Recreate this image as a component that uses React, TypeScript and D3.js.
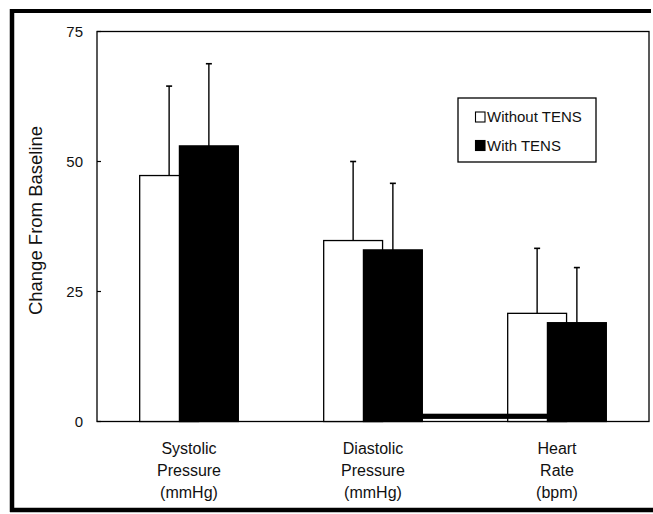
import React from "react";
import * as d3 from "d3";

const categories = ["Systolic", "Diastolic", "Heart"];
const categoryLines = [
  ["Systolic", "Pressure", "(mmHg)"],
  ["Diastolic", "Pressure", "(mmHg)"],
  ["Heart", "Rate", "(bpm)"],
];
const series = ["Without TENS", "With TENS"];
const withoutTens = [47.3, 34.8, 20.8];
const withoutTensErr = [17.2, 15.2, 12.5];
const withTens = [53.0, 33.0, 19.0];
const withTensErr = [15.8, 12.8, 10.6];
const yTicks = [0, 25, 50, 75];
// scanning artifact strip near the baseline (value band)
const stripRange = [0.5, 1.5];

const W = 653;
const H = 514;
const FONT = "'Liberation Sans', Arial, Helvetica, sans-serif";

export default function App() {
  const left = 97;
  const right = 649;
  const top = 31.5;
  const bottom = 421.5;

  const x = d3.scaleBand<string>().domain(categories).range([left, right]).padding(0);
  const y = d3.scaleLinear().domain([0, 75]).range([bottom, top]);
  const bw = x.bandwidth();
  const barW = bw * 0.32;
  const x1 = d3.scalePoint<string>().domain(series).range([-bw * 0.108, bw * 0.108]);

  const data = series.map((s, si) =>
    categories.map((c, ci) => ({
      s,
      c,
      v: si === 0 ? withoutTens[ci] : withTens[ci],
      e: si === 0 ? withoutTensErr[ci] : withTensErr[ci],
    }))
  );

  const cx = (c: string) => (x(c) as number) + bw / 2;
  const bx = (c: string, s: string) => cx(c) + (x1(s) as number);

  const stripX0 = bx(categories[1], series[1]) + barW / 2;
  const stripX1 = bx(categories[2], series[1]) - barW / 2;

  return (
    <svg
      width={W}
      height={H}
      style={{ position: "absolute", left: 0, top: 0, background: "#fff" }}
      fontFamily={FONT}
    >
      {/* outer frame */}
      <line x1={12} y1={11} x2={651} y2={11} stroke="#000" strokeWidth={4} />
      <line x1={12} y1={9} x2={12} y2={512} stroke="#000" strokeWidth={4.5} />
      <line x1={10} y1={510} x2={653} y2={510} stroke="#000" strokeWidth={4.5} />

      {/* plot frame */}
      <rect x={left} y={top} width={right - left} height={bottom - top} fill="none" stroke="#000" strokeWidth={1.3} />

      {/* y ticks */}
      {yTicks.map((t) => (
        <g key={t}>
          <line x1={left} x2={left + 4} y1={y(t)} y2={y(t)} stroke="#000" strokeWidth={1.2} />
          <text x={83} y={y(t)} dy="0.36em" textAnchor="end" fontSize={15} fill="#111">
            {t}
          </text>
        </g>
      ))}

      {/* y label */}
      <text
        transform={`translate(42,${(y(0) + y(75)) / 2 - 6}) rotate(-90)`}
        textAnchor="middle"
        fontSize={18.5}
        fill="#111"
      >
        Change From Baseline
      </text>

      {/* error bars */}
      {data.map((row, si) =>
        row.map((d) => {
          const ex = bx(d.c, d.s);
          return (
            <g key={`e-${si}-${d.c}`}>
              <line x1={ex} x2={ex} y1={y(d.v)} y2={y(d.v + d.e)} stroke="#000" strokeWidth={1.4} />
              <line x1={ex - 3} x2={ex + 3} y1={y(d.v + d.e)} y2={y(d.v + d.e)} stroke="#000" strokeWidth={1.6} />
            </g>
          );
        })
      )}

      {/* bars */}
      {data.map((row, si) =>
        row.map((d) => (
          <rect
            key={`b-${si}-${d.c}`}
            x={bx(d.c, d.s) - barW / 2}
            y={y(d.v)}
            width={barW}
            height={y(0) - y(d.v)}
            fill={si === 0 ? "#fff" : "#000"}
            stroke="#000"
            strokeWidth={1.3}
          />
        ))
      )}

      {/* artifact strip */}
      <rect
        x={stripX0}
        y={y(stripRange[1])}
        width={stripX1 - stripX0}
        height={y(stripRange[0]) - y(stripRange[1])}
        fill="#000"
      />

      {/* category labels */}
      {categories.map((c, i) => (
        <text key={c} x={cx(c)} textAnchor="middle" fontSize={16} fill="#111">
          {categoryLines[i].map((ln, j) => (
            <tspan key={j} x={cx(c)} y={454 + j * 22}>
              {ln}
            </tspan>
          ))}
        </text>
      ))}

      {/* legend */}
      <rect x={458} y={98} width={138} height={64} fill="#fff" stroke="#000" strokeWidth={1.3} />
      {series.map((s, i) => (
        <g key={s}>
          <rect
            x={475.5}
            y={112 + i * 28.5}
            width={9.5}
            height={10}
            fill={i === 0 ? "#fff" : "#000"}
            stroke="#000"
            strokeWidth={1.1}
          />
          <text x={487} y={117 + i * 28.5} dy="0.36em" fontSize={15} fill="#111">
            {s}
          </text>
        </g>
      ))}
    </svg>
  );
}
